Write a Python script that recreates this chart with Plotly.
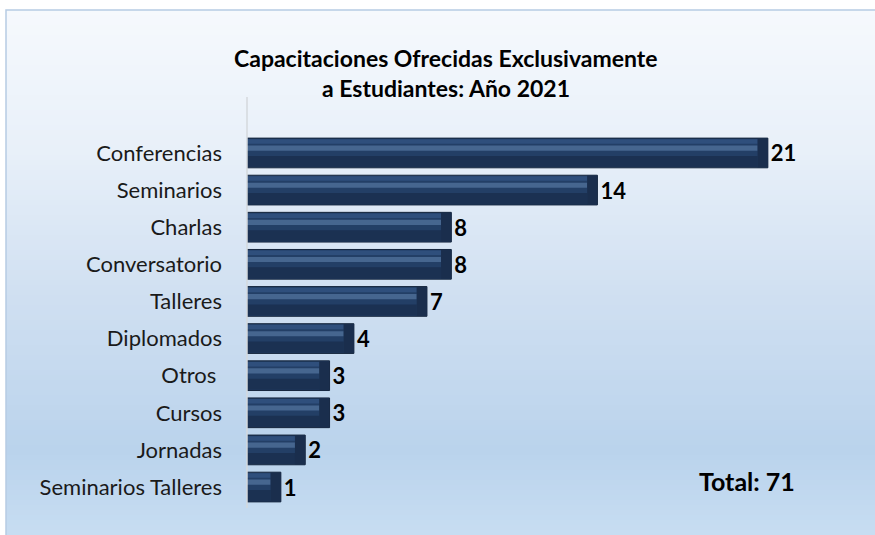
import plotly.graph_objects as go

categories = ["Conferencias", "Seminarios", "Charlas", "Conversatorio", "Talleres",
              "Diplomados", "Otros ", "Cursos", "Jornadas", "Seminarios Talleres"]
values = [21, 14, 8, 8, 7, 4, 3, 3, 2, 1]
title_lines = ["Capacitaciones Ofrecidas Exclusivamente", "a Estudiantes: Año 2021"]
total_label = "Total: " + str(sum(values))

W, H = 875, 535
FONT = "Lato"
pad = 0.39  # bars start slightly left of zero (bevel offset)
cap = 0.42  # bevelled end length (data units)

fig = go.Figure()

# background gradient bands
stops = [(10, (246, 249, 253)), (150, (232, 240, 249)), (300, (207, 223, 241)),
         (450, (186, 211, 236)), (535, (199, 221, 242))]
def col_at(y):
    for (y0, c0), (y1, c1) in zip(stops[:-1], stops[1:]):
        if y0 <= y <= y1:
            t = (y - y0) / (y1 - y0)
            return "rgb(%d,%d,%d)" % tuple(round(a + (b - a) * t) for a, b in zip(c0, c1))
    return "rgb(%d,%d,%d)" % stops[-1][1]
shapes = []
n = 105
for i in range(n):
    y0 = 10 + (H - 10) * i / n
    y1 = 10 + (H - 10) * (i + 1) / n + 0.6
    shapes.append(dict(type="rect", xref="paper", yref="paper", layer="below",
                       x0=6 / W, x1=1.03, y0=1 - y1 / H, y1=1 - y0 / H,
                       fillcolor=col_at((y0 + y1) / 2), line=dict(width=0)))
# border
shapes.append(dict(type="rect", xref="paper", yref="paper", layer="below",
                   x0=6 / W, x1=1.05, y0=-0.05, y1=1 - 10 / H,
                   fillcolor="rgba(0,0,0,0)", line=dict(color="#b7cbe3", width=1.5)))
# axis line
shapes.append(dict(type="line", xref="paper", yref="paper",
                   x0=247 / W, x1=247 / W, y0=1 - 508 / H, y1=1 - 97 / H,
                   line=dict(color="#d4d8dd", width=1.5)))

lengths = [v + pad for v in values]

fig.add_trace(go.Bar(
    y=categories, x=lengths, base=[-pad] * len(values), orientation="h",
    marker=dict(color="#233f66", line=dict(color="#15253c", width=1)),
    text=[str(v) for v in values], textposition="outside", cliponaxis=False,
    textfont=dict(family=FONT, size=22, color="black", weight="bold"),
    width=0.8, hoverinfo="skip",
))
# top light edge
fig.add_trace(go.Bar(
    y=categories, x=[l - cap for l in lengths], base=[-pad] * len(values), orientation="h",
    marker=dict(color="#2f4f7c", line=dict(width=0)),
    width=0.12, offset=-0.37, hoverinfo="skip",
))
# highlight stripe
fig.add_trace(go.Bar(
    y=categories, x=[l - cap for l in lengths], base=[-pad] * len(values), orientation="h",
    marker=dict(color="#46668f", line=dict(width=0)),
    width=0.14, offset=-0.2, hoverinfo="skip",
))
# bottom dark band
fig.add_trace(go.Bar(
    y=categories, x=[l - cap for l in lengths], base=[-pad] * len(values), orientation="h",
    marker=dict(color="#1b3152", line=dict(width=0)),
    width=0.3, offset=0.08, hoverinfo="skip",
))
# bevelled end
fig.add_trace(go.Bar(
    y=categories, x=[cap] * len(values), base=[v - cap for v in values], orientation="h",
    marker=dict(color="#1a2e4d", line=dict(width=0)),
    width=0.78, hoverinfo="skip",
))

x0 = 247 / W
x1 = 830 / W
unit_px = 24.35
rng_max = -pad + (830 - 247) / unit_px

tfont = dict(family=FONT, size=23, color="black", weight="bold")
annotations = [
    dict(text=title_lines[0], x=446 / W, y=1 - 58 / H, xref="paper", yref="paper",
         xanchor="center", yanchor="middle", showarrow=False, font=tfont),
    dict(text=title_lines[1], x=446 / W, y=1 - 88 / H, xref="paper", yref="paper",
         xanchor="center", yanchor="middle", showarrow=False, font=tfont),
    dict(text=total_label, x=747 / W, y=1 - 481 / H, xref="paper", yref="paper",
         xanchor="center", yanchor="middle", showarrow=False,
         font=dict(family=FONT, size=25, color="black", weight="bold")),
]

fig.update_layout(
    width=W, height=H, margin=dict(l=0, r=0, t=0, b=0),
    paper_bgcolor="white", plot_bgcolor="rgba(0,0,0,0)",
    barmode="overlay", showlegend=False,
    shapes=shapes, annotations=annotations,
    xaxis=dict(domain=[x0, x1], range=[-pad, rng_max], visible=False, fixedrange=True),
    yaxis=dict(domain=[1 - 505.6 / H, 1 - 134.4 / H], autorange="reversed",
               showline=False, showgrid=False, ticks="", ticklabelstandoff=24,
               tickfont=dict(family=FONT, size=22, color="#1a1a1a"), fixedrange=True),
)

fig.write_html("out.html")
